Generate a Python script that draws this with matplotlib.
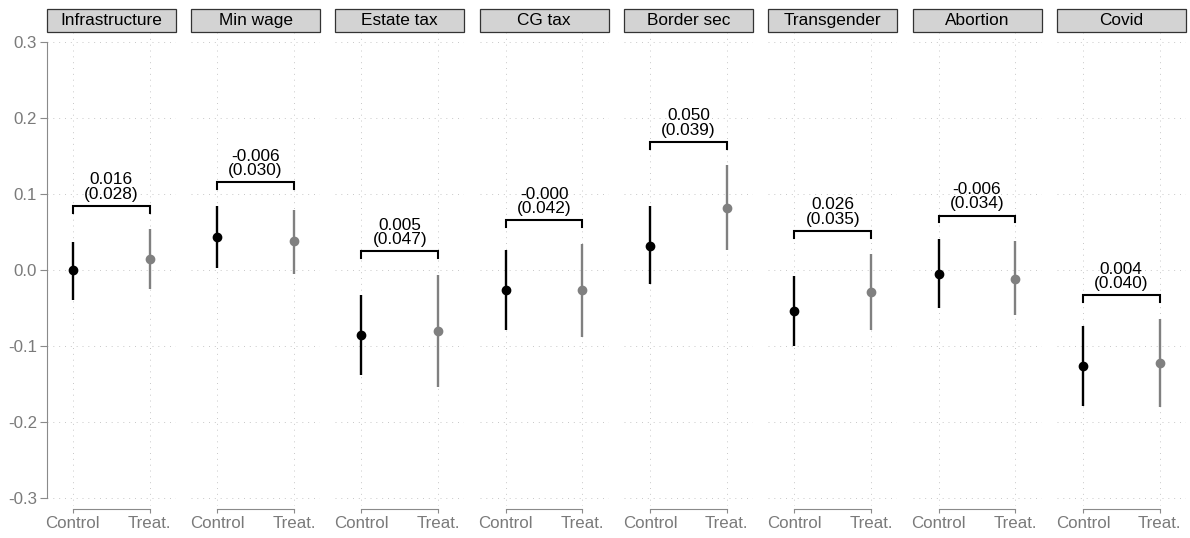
import numpy as np
import matplotlib.pyplot as plt
from matplotlib.patches import Rectangle

plt.rcParams['font.family'] = ['Liberation Sans', 'DejaVu Sans']

# topik dan estimasi tiap kelompok
topics = ['Infrastructure', 'Min wage', 'Estate tax', 'CG tax',
          'Border sec', 'Transgender', 'Abortion', 'Covid']
groups = ['Control', 'Treat.']

ctrl_est = [0.000, 0.044, -0.085, -0.026, 0.032, -0.054, -0.005, -0.126]
ctrl_lo = [-0.039, 0.003, -0.138, -0.079, -0.018, -0.100, -0.050, -0.178]
ctrl_hi = [0.037, 0.085, -0.032, 0.027, 0.084, -0.008, 0.041, -0.073]

treat_est = [0.015, 0.038, -0.080, -0.026, 0.082, -0.029, -0.011, -0.122]
treat_lo = [-0.025, -0.005, -0.154, -0.088, 0.027, -0.079, -0.059, -0.180]
treat_hi = [0.054, 0.080, -0.006, 0.035, 0.138, 0.021, 0.039, -0.064]

# selisih treat - control dan standar error
diff_est = [0.016, -0.006, 0.005, -0.000, 0.050, 0.026, -0.006, 0.004]
diff_se = [0.028, 0.030, 0.047, 0.042, 0.039, 0.035, 0.034, 0.040]

yticks = [-0.3, -0.2, -0.1, 0.0, 0.1, 0.2, 0.3]

W, H = 1190, 538
fig = plt.figure(figsize=(W / 100, H / 100), dpi=100)

axis_grey = '#8a8a8a'
colors = ['black', '#808080']
grid_kw = dict(color='#c8c8c8', lw=0.7, ls=(0, (1, 5)), zorder=0)

for k, topic in enumerate(topics):
    left = 46.7 + 144.3 * k
    ax = fig.add_axes([left / W, (H - 506) / H, 129 / W, 473 / H])
    ax.set_xlim(-0.34, 1.34)
    ax.set_ylim(-0.310, 0.3122)

    # grid titik-titik
    for y in yticks:
        ax.axhline(y, **grid_kw)
    for x in [0, 1]:
        ax.axvline(x, **grid_kw)

    est = [ctrl_est[k], treat_est[k]]
    lo = [ctrl_lo[k], treat_lo[k]]
    hi = [ctrl_hi[k], treat_hi[k]]
    for j in range(2):
        ax.plot([j, j], [lo[j], hi[j]], color=colors[j], lw=1.7,
                solid_capstyle='butt', zorder=2)
        ax.plot(j, est[j], 'o', color=colors[j], ms=6, zorder=3)

    # kurung di atas kedua kelompok
    yb = max(hi) + 0.031
    ax.plot([0, 0, 1, 1], [yb - 0.009, yb, yb, yb - 0.009], color='black',
            lw=1.5, solid_joinstyle='miter', zorder=2)
    ax.annotate(f'{diff_est[k]:.3f}\n({diff_se[k]:.3f})', xy=(0.5, yb),
                xytext=(0, 3), textcoords='offset points', ha='center',
                va='bottom', fontsize=12.4, linespacing=0.95)

    # label panel
    ax.add_patch(Rectangle((0, 1.003), 1, 0.0477, transform=ax.transAxes,
                           facecolor='#d3d3d3', edgecolor='#333333', lw=0.9,
                           clip_on=False))
    ax.text(0.5, 1.027, topic, transform=ax.transAxes, ha='center',
            va='center', fontsize=12.4)

    for s in ['top', 'right']:
        ax.spines[s].set_visible(False)
    ax.spines['bottom'].set_bounds(0, 1)
    ax.spines['bottom'].set_position(('outward', 2.5))
    ax.spines['bottom'].set_color(axis_grey)
    ax.set_xticks([0, 1])
    ax.set_xticklabels(groups)
    ax.tick_params(axis='x', colors=axis_grey, labelcolor='#7a7a7a',
                   length=3, labelsize=12.2, pad=2)
    if k == 0:
        ax.spines['left'].set_bounds(-0.3, 0.3)
        ax.spines['left'].set_color(axis_grey)
        ax.set_yticks(yticks)
        ax.set_yticklabels([f'{y:.1f}' for y in yticks])
        ax.tick_params(axis='y', colors=axis_grey, labelcolor='#7a7a7a',
                       length=5, labelsize=12.2, pad=2)
    else:
        ax.spines['left'].set_visible(False)
        ax.set_yticks([])
    ax.patch.set_visible(False)

fig.savefig('out.png', dpi=100)
